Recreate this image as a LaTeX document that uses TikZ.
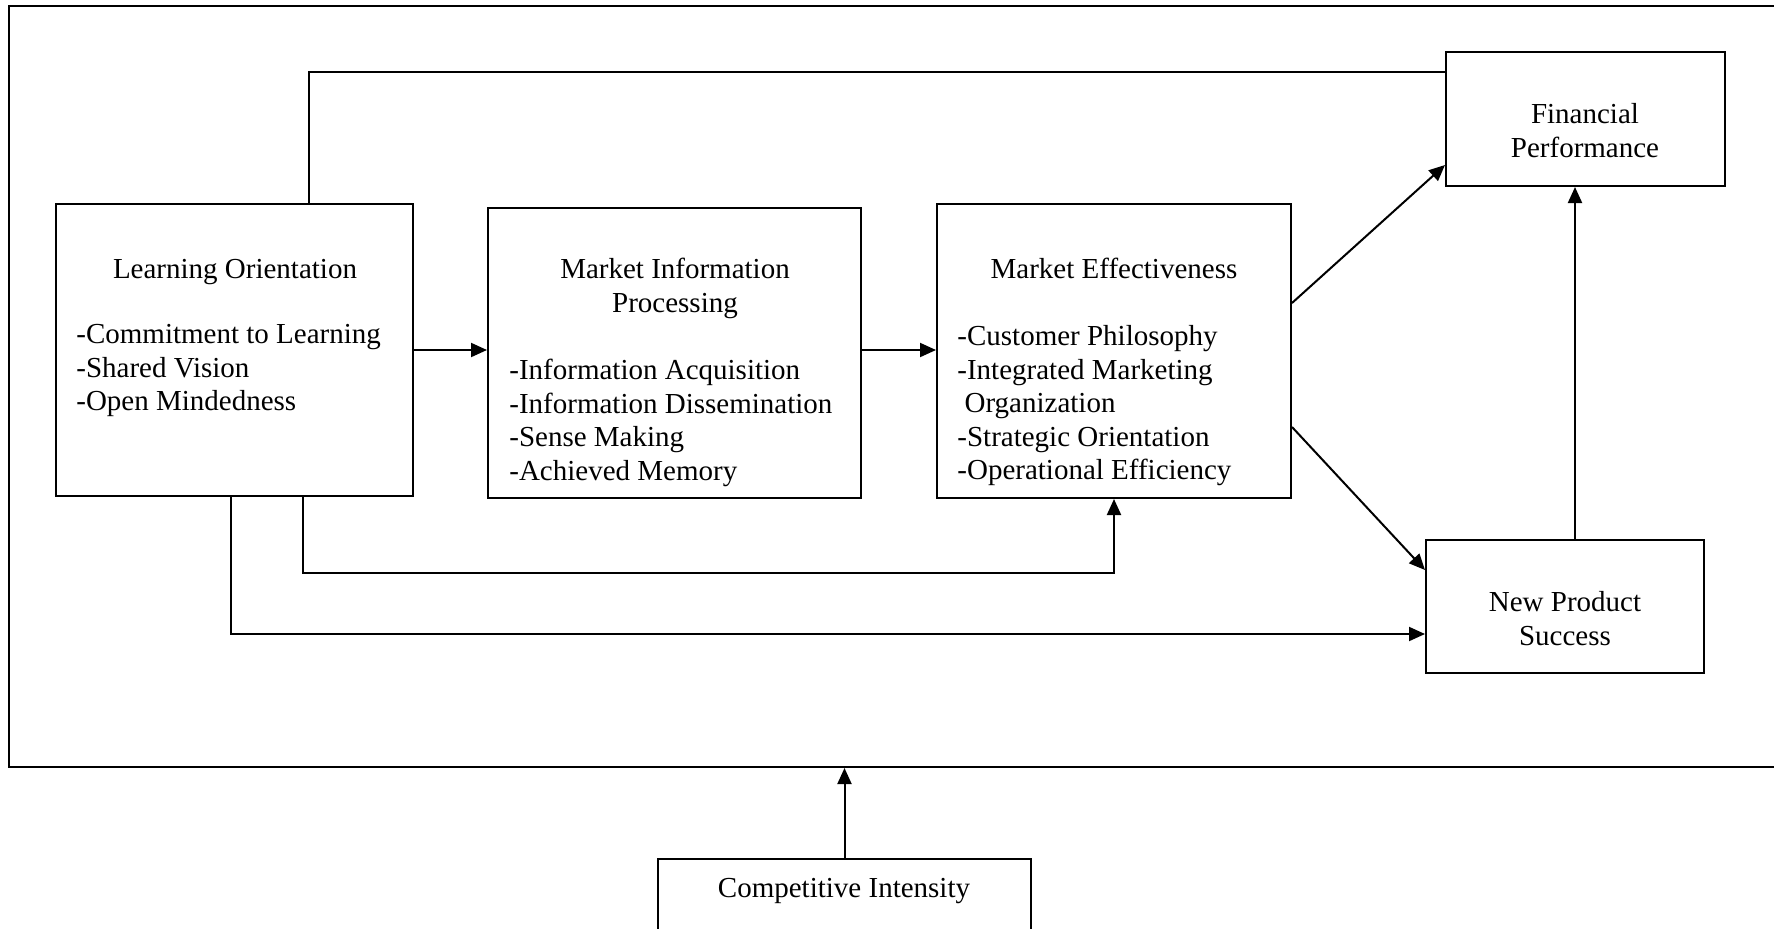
\documentclass[tikz,border=0pt]{standalone}
\usepackage{fontspec}
\setmainfont{Liberation Serif}
\usetikzlibrary{arrows.meta,fit}
\tikzset{
  box/.style={draw, line width=1pt, inner sep=0pt},
  arr/.style={line width=1pt, -{Triangle[length=8pt,width=7pt]}},
  txt/.style={inner sep=0pt, font=\fontsize{14.5}{16.75}\selectfont},
}
\begin{document}
\begin{tikzpicture}[x=0.5pt, y=-0.5pt]
    \useasboundingbox (0,0) rectangle (1774,928);
    \clip (0,0) rectangle (1774,928);
    % Cornice esterna (tagliata a destra)
    \node[box, fit={(9,6) (1790,767)}] (frame) {};
    % Riquadri
    \node[box, fit={(56,204) (413,496)}] (lo) {};
    \node[box, fit={(488,208) (861,498)}] (mip) {};
    \node[box, fit={(937,204) (1291,498)}] (me) {};
    \node[box, fit={(1446,52) (1725,186)}] (fp) {};
    \node[box, fit={(1426,540) (1704,673)}] (nps) {};
    \node[box, fit={(658,859) (1031,960)}] (ci) {};
    % Testi
    \node[txt, anchor=base] (lo-t) at (235,278) {Learning Orientation};
    \node[txt, anchor=north west, align=left] (lo-l) at (76,324)
        {-Commitment to Learning\\-Shared Vision\\-Open Mindedness};
    \node[txt, anchor=north, align=center] (mip-t) at (675,258)
        {Market Information\\Processing};
    \node[txt, anchor=north west, align=left] (mip-l) at (509,359)
        {-Information Acquisition\\-Information Dissemination\\-Sense Making\\-Achieved Memory};
    \node[txt, anchor=base] (me-t) at (1114,278) {Market Effectiveness};
    \node[txt, anchor=north west, align=left] (me-l) at (957,325)
        {-Customer Philosophy\\-Integrated Marketing\\\ Organization\\-Strategic Orientation\\-Operational Efficiency};
    \node[txt, anchor=north, align=center] (fp-t) at (1585,103) {Financial\\Performance};
    \node[txt, anchor=north, align=center] (nps-t) at (1565,591) {New Product\\Success};
    \node[txt, anchor=base] (ci-t) at (844,897) {Competitive Intensity};
    % Linea in alto verso Financial Performance
    \draw[line width=1pt] (309,0 |- lo.north) |- (fp.west |- 0,72);
    % Frecce
    \draw[arr] (lo.east) -- (lo.east -| mip.west);
    \draw[arr] (mip.east |- lo.east) -- (lo.east -| me.west);
    \draw[arr] (me.east |- 0,303) -- (fp.west |- 0,165);
    \draw[arr] (me.east |- 0,427) -- (nps.west |- 0,570);
    \draw[arr] (1575,0 |- nps.north) -- (1575,0 |- fp.south);
    \draw[arr] (303,0 |- lo.south) -- (303,573) -| (me.south);
    \draw[arr] (231,0 |- lo.south) |- (nps.west |- 0,634);
    \draw[arr] (ci.north) -- (ci.north |- frame.south);
\end{tikzpicture}
\end{document}
